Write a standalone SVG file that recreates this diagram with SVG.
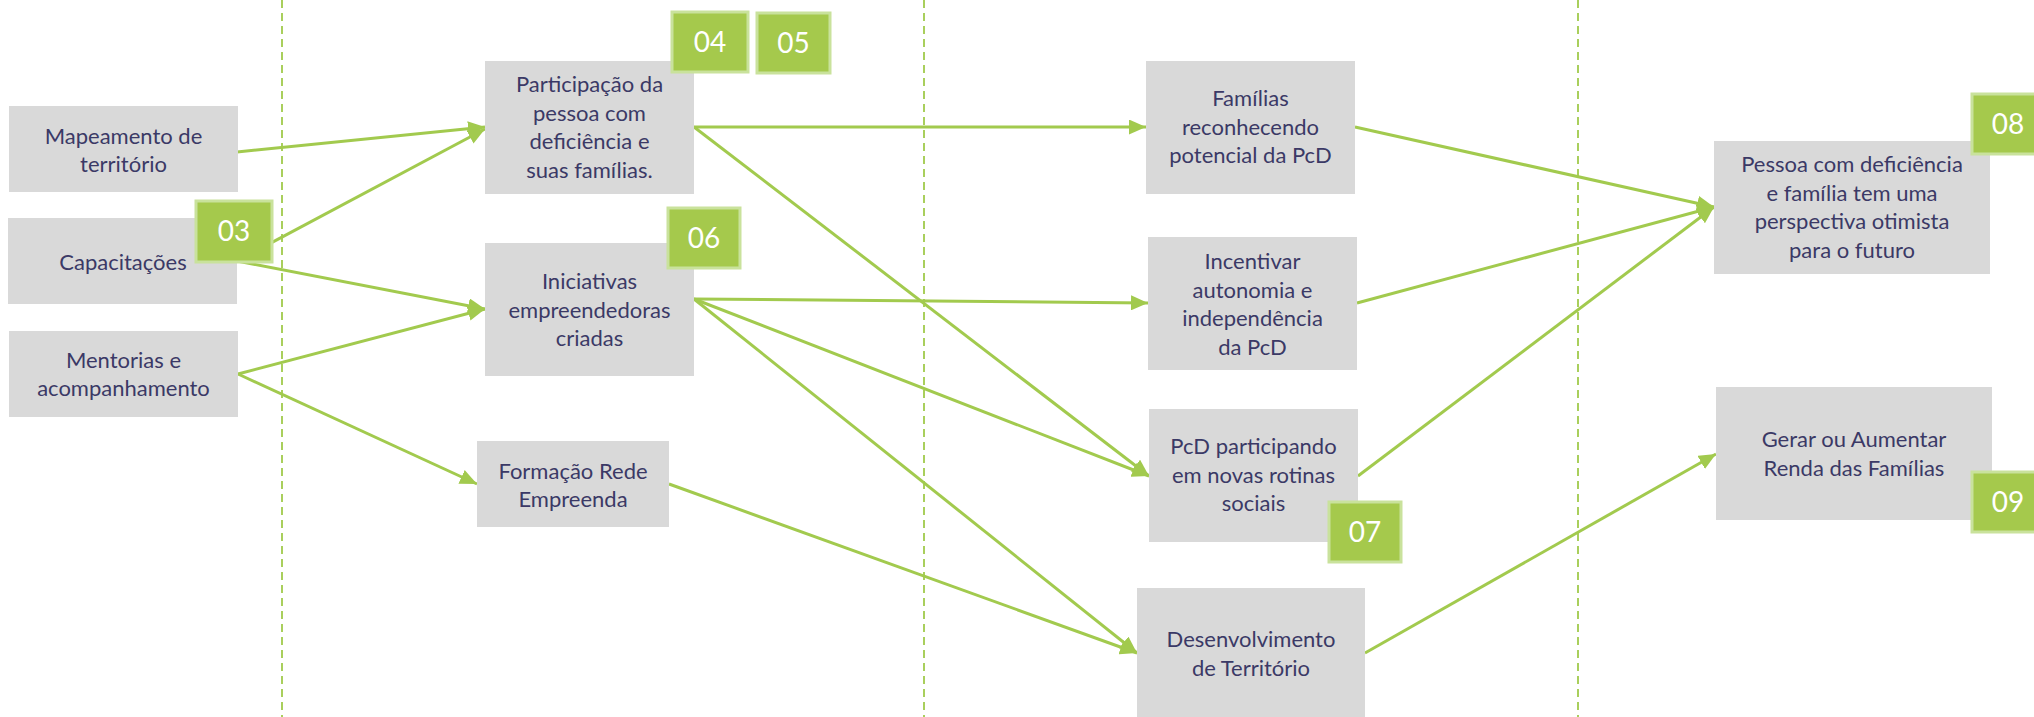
<svg xmlns="http://www.w3.org/2000/svg" width="2034" height="717" viewBox="0 0 2034 717">
<style>
.box{fill:#D9D9D9}
.t{font-family:Lato,"Liberation Sans",sans-serif;font-size:22px;fill:#3B3966;text-anchor:middle}
.badge{fill:#A5C94C;stroke:#C9E29C;stroke-width:3}
.bt{font-family:Lato,"Liberation Sans",sans-serif;font-size:28px;fill:#FFFFFF;text-anchor:middle}
.div{stroke:#A9CF5C;stroke-width:2;stroke-dasharray:8 5;fill:none}
.c{stroke:#A2CA4E;stroke-width:3;fill:none;marker-end:url(#ah)}
</style>
<defs>
<marker id="ah" markerUnits="userSpaceOnUse" markerWidth="17" markerHeight="15" refX="17" refY="7.5" orient="auto">
<path d="M0,0 L17,7.5 L0,15 z" fill="#A2CA4E"/>
</marker>
</defs>
<rect width="2034" height="717" fill="#FFFFFF"/>
<g id="dividers">
<line class="div" x1="282" y1="0" x2="282" y2="717"/>
<line class="div" x1="924" y1="0" x2="924" y2="717"/>
<line class="div" x1="1578" y1="0" x2="1578" y2="717"/>
</g>
<g id="connectors">
<line class="c" x1="237" y1="152" x2="485" y2="127"/>
<line class="c" x1="237" y1="261" x2="485" y2="129"/>
<line class="c" x1="237" y1="261" x2="485" y2="309"/>
<line class="c" x1="238" y1="374" x2="485" y2="309"/>
<line class="c" x1="238" y1="374" x2="477" y2="484"/>
<line class="c" x1="694" y1="127" x2="1146" y2="127"/>
<line class="c" x1="694" y1="127" x2="1149" y2="476"/>
<line class="c" x1="694" y1="299" x2="1148" y2="303"/>
<line class="c" x1="694" y1="299" x2="1149" y2="476"/>
<line class="c" x1="694" y1="299" x2="1137" y2="653"/>
<line class="c" x1="669" y1="484" x2="1137" y2="653"/>
<line class="c" x1="1355" y1="127" x2="1714" y2="207"/>
<line class="c" x1="1357" y1="303" x2="1714" y2="207"/>
<line class="c" x1="1358" y1="476" x2="1714" y2="207"/>
<line class="c" x1="1365" y1="653" x2="1716" y2="454"/>
</g>
<g id="n-mapeamento">
<rect class="box" x="9" y="106" width="229" height="86"/>
<text class="t" x="123.5" y="144">Mapeamento de</text>
<text class="t" x="123.5" y="172">território</text>
</g>
<g id="n-capacitacoes">
<rect class="box" x="8" y="218" width="229" height="86"/>
<text class="t" x="123" y="270">Capacitações</text>
</g>
<g id="n-mentorias">
<rect class="box" x="9" y="331" width="229" height="86"/>
<text class="t" x="123.5" y="368">Mentorias e</text>
<text class="t" x="123.5" y="396">acompanhamento</text>
</g>
<g id="n-participacao">
<rect class="box" x="485" y="61" width="209" height="133"/>
<text class="t" x="589.5" y="92">Participação da</text>
<text class="t" x="589.5" y="120.5">pessoa com</text>
<text class="t" x="589.5" y="149">deficiência e</text>
<text class="t" x="589.5" y="177.5">suas famílias.</text>
</g>
<g id="n-iniciativas">
<rect class="box" x="485" y="243" width="209" height="133"/>
<text class="t" x="589.5" y="289">Iniciativas</text>
<text class="t" x="589.5" y="317.5">empreendedoras</text>
<text class="t" x="589.5" y="346">criadas</text>
</g>
<g id="n-formacao">
<rect class="box" x="477" y="441" width="192" height="86"/>
<text class="t" x="573" y="479">Formação Rede</text>
<text class="t" x="573" y="507">Empreenda</text>
</g>
<g id="n-familias">
<rect class="box" x="1146" y="61" width="209" height="133"/>
<text class="t" x="1250.5" y="106">Famílias</text>
<text class="t" x="1250.5" y="134.5">reconhecendo</text>
<text class="t" x="1250.5" y="163">potencial da PcD</text>
</g>
<g id="n-incentivar">
<rect class="box" x="1148" y="237" width="209" height="133"/>
<text class="t" x="1252.5" y="269">Incentivar</text>
<text class="t" x="1252.5" y="297.5">autonomia e</text>
<text class="t" x="1252.5" y="326">independência</text>
<text class="t" x="1252.5" y="354.5">da PcD</text>
</g>
<g id="n-pcd">
<rect class="box" x="1149" y="409" width="209" height="133"/>
<text class="t" x="1253.5" y="454">PcD participando</text>
<text class="t" x="1253.5" y="482.5">em novas rotinas</text>
<text class="t" x="1253.5" y="511">sociais</text>
</g>
<g id="n-desenvolvimento">
<rect class="box" x="1137" y="588" width="228" height="130"/>
<text class="t" x="1251" y="647">Desenvolvimento</text>
<text class="t" x="1251" y="675.5">de Território</text>
</g>
<g id="n-pessoa">
<rect class="box" x="1714" y="141" width="276" height="133"/>
<text class="t" x="1852" y="172">Pessoa com deficiência</text>
<text class="t" x="1852" y="200.5">e família tem uma</text>
<text class="t" x="1852" y="229">perspectiva otimista</text>
<text class="t" x="1852" y="257.5">para o futuro</text>
</g>
<g id="n-gerar">
<rect class="box" x="1716" y="387" width="276" height="133"/>
<text class="t" x="1854" y="447">Gerar ou Aumentar</text>
<text class="t" x="1854" y="475.5">Renda das Famílias</text>
</g>
<g id="badges">
<g id="b03"><rect class="badge" x="196" y="201" width="76" height="61"/><text class="bt" x="234" y="241">03</text></g>
<g id="b04"><rect class="badge" x="672" y="12" width="76" height="60"/><text class="bt" x="710" y="52">04</text></g>
<g id="b05"><rect class="badge" x="757" y="13" width="73" height="60"/><text class="bt" x="793.5" y="53">05</text></g>
<g id="b06"><rect class="badge" x="668" y="208" width="72" height="60"/><text class="bt" x="704" y="248">06</text></g>
<g id="b07"><rect class="badge" x="1329" y="502" width="72" height="60"/><text class="bt" x="1365" y="542">07</text></g>
<g id="b08"><rect class="badge" x="1972" y="94" width="76" height="60"/><text class="bt" x="2008" y="134">08</text></g>
<g id="b09"><rect class="badge" x="1972" y="472" width="76" height="60"/><text class="bt" x="2008" y="512">09</text></g>
</g>
</svg>
